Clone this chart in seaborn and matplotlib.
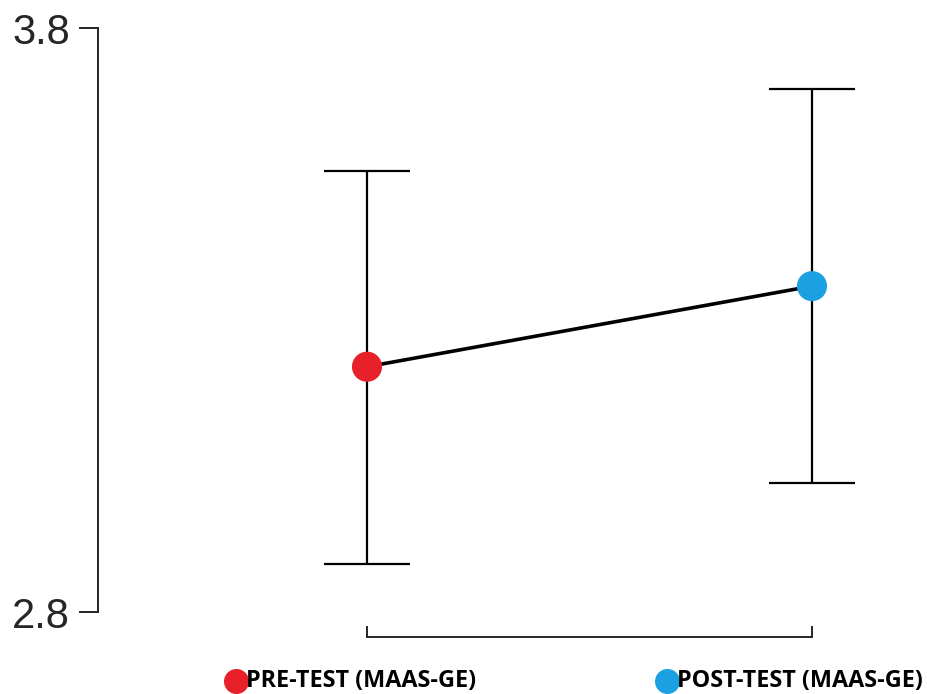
import matplotlib
matplotlib.use("Agg")
import matplotlib.pyplot as plt
import matplotlib.transforms as mtransforms
import seaborn as sns
import pandas as pd

# Mean scores with confidence limits
groups = ["PRE-TEST (MAAS-GE)", "POST-TEST (MAAS-GE)"]
means = [3.22, 3.358]
lower = [2.882, 3.021]
upper = [3.555, 3.696]
colors = ["#e8202a", "#1ba1e2"]
ytick_values = [2.8, 3.8]
ytick_labels = ["2.8", "3.8"]

sns.set_style("white")
plt.rcParams["font.family"] = ["Liberation Sans", "DejaVu Sans"]

fig = plt.figure(figsize=(9.28, 6.94), dpi=100)
W, H = 928, 694
ax = fig.add_axes([98 / W, (H - 612) / H, (900 - 98) / W, 584 / H])

xpos = list(range(len(groups)))
df = pd.DataFrame({"x": xpos, "mean": means, "group": groups})

yerr = [[m - lo for m, lo in zip(means, lower)],
        [hi - m for m, hi in zip(means, upper)]]
ax.errorbar(xpos, means, yerr=yerr, fmt="none", ecolor="black",
            elinewidth=1.6, capsize=31, capthick=1.6, zorder=1)
sns.lineplot(data=df, x="x", y="mean", color="black", linewidth=2.6,
             ax=ax, zorder=2)
sns.scatterplot(data=df, x="x", y="mean", hue="group", palette=colors,
                s=470, edgecolor="none", legend=False, ax=ax, zorder=3)

ax.set_xlim((98 - 367) / 445, (900 - 367) / 445)
ax.set_ylim(2.8, 3.8)
ax.set_xlabel("")
ax.set_ylabel("")

# R-style axes: detached bottom bracket, left spine with outward ticks
for side in ["top", "right"]:
    ax.spines[side].set_visible(False)
ax.spines["left"].set_linewidth(1.4)
ax.spines["left"].set_bounds(2.8, 3.8)
ax.spines["bottom"].set_position(("outward", 18))
ax.spines["bottom"].set_bounds(0, 1)
ax.spines["bottom"].set_linewidth(1.4)

ax.set_yticks(ytick_values)
ax.set_yticklabels(ytick_labels, fontsize=30)
ax.tick_params(axis="y", direction="out", length=14, width=1.4,
               pad=6, left=True)
ax.set_xticks(xpos)
ax.set_xticklabels([])
ax.tick_params(axis="x", direction="in", length=8, width=1.4, bottom=True)

# Group labels with coloured key dots beneath the bracket
trans = mtransforms.blended_transform_factory(ax.transData, fig.transFigure)
label_y = (H - 681) / H
dot_offsets = [-131 / 445, -145 / 445]
for x, name, col, off in zip(xpos, groups, colors, dot_offsets):
    ax.plot([x + off], [label_y], marker="o", markersize=18, color=col,
            markeredgewidth=0, transform=trans, clip_on=False)
    ax.text(x + off + 10 / 445, label_y, name, transform=trans,
            ha="left", va="center", fontsize=16.8, fontweight="bold",
            family=["Open Sans", "DejaVu Sans"], color="black")

fig.savefig("out.png", dpi=100, facecolor="white")
